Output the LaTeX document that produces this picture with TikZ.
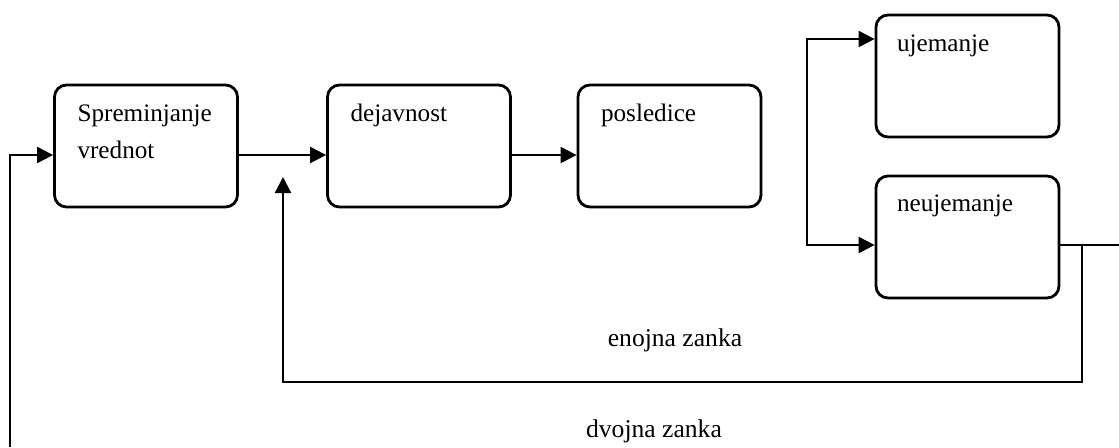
\documentclass[tikz,border=0pt]{standalone}
\usepackage{fontspec}
\setmainfont{Liberation Serif}
\usetikzlibrary{arrows.meta,calc}

\tikzset{
  stage/.style={draw, line width=1.4pt, rounded corners=6pt, inner sep=0pt,
    minimum width=91.5pt, minimum height=61pt},
  caption/.style={anchor=base west, inner sep=0pt, align=left,
    font=\fontsize{12.6}{18.5}\selectfont},
  loopname/.style={anchor=base, inner sep=0pt, font=\fontsize{12.8}{16}\selectfont},
  link/.style={line width=1.1pt, -{Triangle[length=8pt,width=8pt]}},
  twoway/.style={line width=1.1pt, {Triangle[length=8pt,width=8pt]}-{Triangle[length=8pt,width=8pt]}},
  plain/.style={line width=1.1pt}
}

\begin{document}
\begin{tikzpicture}[x=0.5pt,y=-0.5pt]
  \useasboundingbox (0,0) rectangle (1119,447);

  % stages of the chain
  \node[stage] (sv) at (146,146) {};
  \node[stage] (dv) at (419,146) {};
  \node[stage] (ps) at (669.5,146) {};
  \node[stage] (uj) at (967.5,76) {};
  \node[stage] (nu) at (967.5,237) {};

  % captions set in the upper left of each stage
  % (a two-line caption sits on the baseline of its last line)
  \node[caption] at ($(sv.north west)+(24,75)$) {Spreminjanje\\vrednot};
  \node[caption] at ($(dv.north west)+(24,38)$) {dejavnost};
  \node[caption] at ($(ps.north west)+(24,38)$) {posledice};
  \node[caption] at ($(uj.north west)+(22,38)$) {ujemanje};
  \node[caption] at ($(nu.north west)+(22,37)$) {neujemanje};

  % helper levels and turning points
  \coordinate (rowA) at (0,155);
  \coordinate (rowU) at (0,39);
  \coordinate (rowN) at (0,245);
  \coordinate (brk) at (807,0);
  \coordinate (drop) at (1082,382);
  \coordinate (fb) at (283,177);
  \coordinate (edge) at (1119,245);
  \coordinate (low) at (10,447);

  % main chain
  \draw[link] (sv.east |- rowA) -- (dv.west |- rowA);
  \draw[link] (dv.east |- rowA) -- (ps.west |- rowA);

  % fork to the two outcomes
  \draw[twoway] (uj.west |- rowU) -- (brk |- rowU) -- (brk |- rowN) -- (nu.west |- rowN);

  % single loop back to the activity
  \draw[plain] (nu.east |- rowN) -- (edge);
  \draw[link] (drop |- rowN) -- (drop) -| (fb);

  % double loop back to the change of values
  \draw[link] (low) |- (sv.west |- rowA);

  % loop names
  \node[loopname] (single) at (675,346) {enojna zanka};
  \node[loopname] (double) at (654,437) {dvojna zanka};
\end{tikzpicture}
\end{document}
